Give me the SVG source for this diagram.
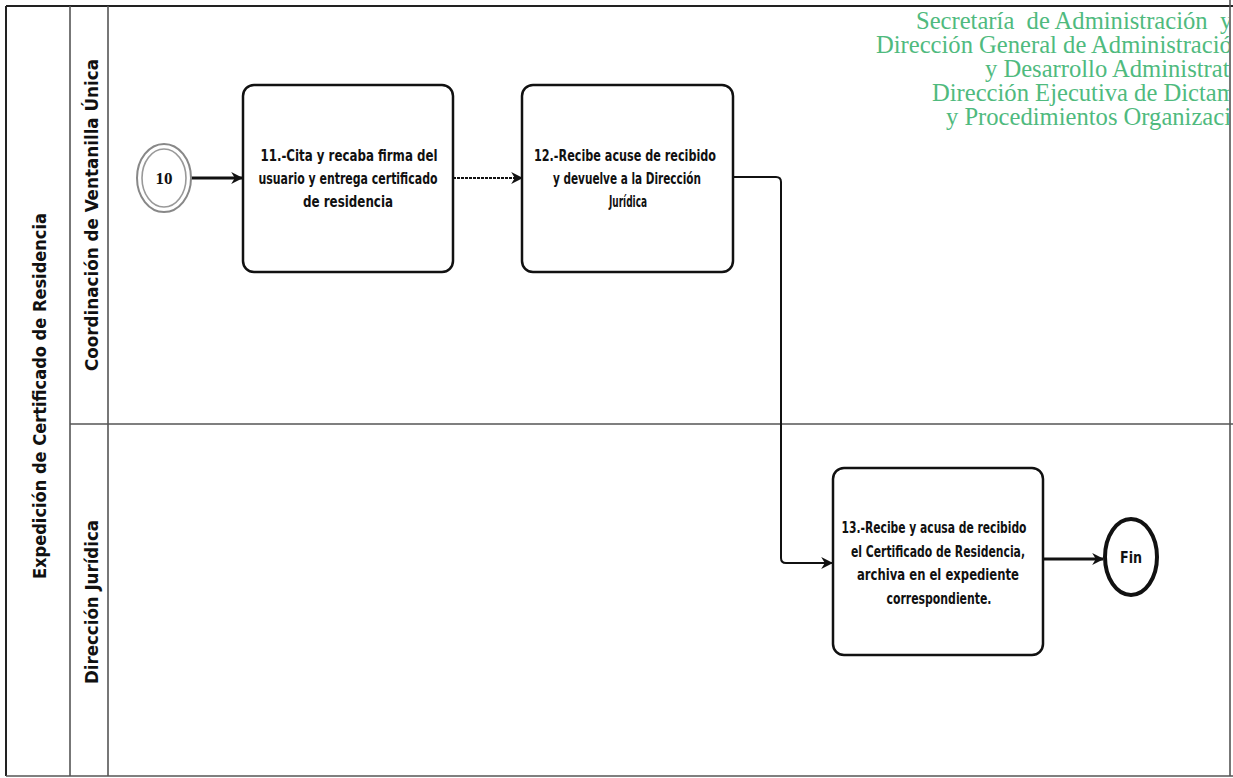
<svg xmlns="http://www.w3.org/2000/svg" width="1233" height="778" viewBox="0 0 1233 778">
  <style>
    .lane { stroke: #555; stroke-width: 1.6; fill: none; }
    .frame { stroke: #222; stroke-width: 2; fill: none; }
    .task { fill: #fff; stroke: #111; stroke-width: 2.5; }
    .label { font-family: "DejaVu Sans Condensed", "DejaVu Sans", sans-serif; font-weight: bold; font-stretch: condensed; font-size: 16px; fill: #111; text-anchor: middle; }
    .lanelabel { font-family: "DejaVu Sans Condensed", "DejaVu Sans", sans-serif; font-weight: bold; font-size: 17px; fill: #111; text-anchor: middle; }
    .header { font-family: "Liberation Serif", "Times New Roman", serif; font-size: 24.6px; fill: #4fba7e; white-space: pre; }
    .flow { stroke: #111; fill: none; }
  </style>
  <defs>
    <marker id="arrow" viewBox="0 0 10 10" refX="9" refY="5" markerWidth="12" markerHeight="12" markerUnits="userSpaceOnUse" orient="auto">
      <path d="M0,0 L10,5 L0,10 L3,5 Z" fill="#111"/>
    </marker>
    <clipPath id="pageClip">
      <rect x="0" y="0" width="1229" height="778"/>
    </clipPath>
  </defs>

  <rect width="1233" height="778" fill="#fff"/>

  <!-- pool and lanes -->
  <g id="pool">
    <line x1="6" y1="6" x2="1233" y2="6" class="frame"/>
    <line x1="6" y1="6" x2="6" y2="776" class="frame"/>
    <line x1="6" y1="776" x2="1233" y2="776" class="lane"/>
    <line x1="70" y1="6" x2="70" y2="776" class="lane"/>
    <line x1="108" y1="6" x2="108" y2="776" class="lane"/>
    <line x1="70" y1="424" x2="1233" y2="424" class="lane"/>
    <line x1="1230" y1="0" x2="1230" y2="776" class="lane"/>
    <text class="lanelabel" transform="translate(46,396) rotate(-90)" textLength="366" lengthAdjust="spacingAndGlyphs">Expedición de Certificado de Residencia</text>
  </g>

  <g id="lane-ventanilla">
    <text class="lanelabel" transform="translate(98,215) rotate(-90)" textLength="312" lengthAdjust="spacingAndGlyphs">Coordinación de Ventanilla Única</text>
  </g>

  <g id="lane-juridica">
    <text class="lanelabel" transform="translate(98,602) rotate(-90)" textLength="164" lengthAdjust="spacingAndGlyphs">Dirección Jurídica</text>
  </g>

  <!-- header, cut by the right page edge -->
  <g id="header" clip-path="url(#pageClip)">
    <text class="header" x="916" y="29" xml:space="preserve">Secretaría  de Administración  y</text>
    <text class="header" x="876" y="53">Dirección General de Administración</text>
    <text class="header" x="985" y="77">y Desarrollo Administrativo</text>
    <text class="header" x="932" y="101">Dirección Ejecutiva de Dictaminación</text>
    <text class="header" x="946" y="125">y Procedimientos Organizacionales</text>
  </g>

  <!-- connectors -->
  <g id="connectors">
    <line x1="191" y1="178" x2="242" y2="178" class="flow" stroke-width="3" marker-end="url(#arrow)"/>
    <line x1="453" y1="178" x2="522" y2="178" class="flow" stroke-width="2" stroke-dasharray="3 1" marker-end="url(#arrow)"/>
    <path d="M733,177 H776 Q781,177 781,182 V558 Q781,563 786,563 H832" class="flow" stroke-width="2" marker-end="url(#arrow)"/>
    <line x1="1043" y1="559" x2="1103" y2="559" class="flow" stroke-width="3" marker-end="url(#arrow)"/>
  </g>

  <!-- start: link from step 10 -->
  <g id="start-10">
    <ellipse cx="164" cy="178" rx="27" ry="34" fill="#fff" stroke="#888" stroke-width="2"/>
    <ellipse cx="164" cy="178" rx="22" ry="29" fill="none" stroke="#999" stroke-width="1.6"/>
    <text x="164" y="184" font-family="Liberation Serif, serif" font-weight="bold" font-size="17" text-anchor="middle" fill="#111">10</text>
  </g>

  <g id="task-11">
    <rect x="243" y="85" width="210" height="187" rx="11" class="task"/>
    <text class="label" x="349" y="161" textLength="177" lengthAdjust="spacingAndGlyphs">11.-Cita y recaba firma del</text>
    <text class="label" x="348" y="184" textLength="179" lengthAdjust="spacingAndGlyphs">usuario y entrega certificado</text>
    <text class="label" x="348" y="207" textLength="90" lengthAdjust="spacingAndGlyphs">de residencia</text>
  </g>

  <g id="task-12">
    <rect x="522" y="85" width="211" height="187" rx="11" class="task"/>
    <text class="label" x="625" y="161" textLength="182" lengthAdjust="spacingAndGlyphs">12.-Recibe  acuse de recibido</text>
    <text class="label" x="627" y="184" textLength="148" lengthAdjust="spacingAndGlyphs">y devuelve a la Dirección</text>
    <text class="label" x="628" y="207" textLength="38" lengthAdjust="spacingAndGlyphs">Jurídica</text>
  </g>

  <g id="task-13">
    <rect x="833" y="468" width="210" height="187" rx="11" class="task"/>
    <text class="label" x="934" y="533" textLength="185" lengthAdjust="spacingAndGlyphs">13.-Recibe y acusa de recibido</text>
    <text class="label" x="938" y="557" textLength="174" lengthAdjust="spacingAndGlyphs">el Certificado de Residencia,</text>
    <text class="label" x="938" y="580" textLength="162" lengthAdjust="spacingAndGlyphs">archiva en el expediente</text>
    <text class="label" x="939" y="604" textLength="105" lengthAdjust="spacingAndGlyphs">correspondiente.</text>
  </g>

  <g id="end">
    <ellipse cx="1131" cy="557" rx="26" ry="38" fill="#fff" stroke="#111" stroke-width="4"/>
    <text class="label" x="1131" y="563" textLength="22" lengthAdjust="spacingAndGlyphs">Fin</text>
  </g>
</svg>
